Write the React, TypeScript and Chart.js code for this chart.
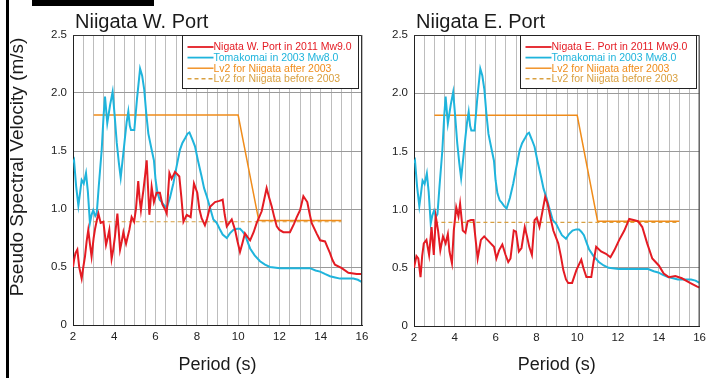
import React, { useEffect, useRef } from "react";
import { Chart, registerables } from "chart.js";

Chart.register(...registerables);

// ---------- data ----------
const periodTickLabels = [2, 4, 6, 8, 10, 12, 14, 16];
const panelTitles = ["Niigata W. Port", "Niigata E. Port"];
const redLabels = ["Nigata W. Port in 2011 Mw9.0", "Nigata E. Port in 2011 Mw9.0"];
const tomakomaiLabel = "Tomakomai in 2003 Mw8.0";
const lv2AfterLabel = "Lv2 for Niigata after 2003";
const lv2BeforeLabel = "Lv2 for Niigata before 2003";

const tomakomaiPeriod = [2.0, 2.05, 2.15, 2.26, 2.35, 2.42, 2.52, 2.63, 2.72, 2.82, 2.9, 2.98, 3.08, 3.15, 3.25, 3.39, 3.48, 3.55, 3.66, 3.8, 3.92, 4.02, 4.12, 4.22, 4.31, 4.42, 4.52, 4.6, 4.68, 4.75, 4.81, 4.97, 5.1, 5.25, 5.35, 5.45, 5.55, 5.65, 5.8, 5.92, 6.0, 6.09, 6.2, 6.3, 6.42, 6.54, 6.7, 6.86, 7.0, 7.18, 7.3, 7.43, 7.55, 7.64, 7.78, 7.91, 8.05, 8.23, 8.35, 8.48, 8.64, 8.8, 8.96, 9.1, 9.25, 9.45, 9.6, 9.77, 9.95, 10.09, 10.2, 10.33, 10.45, 10.58, 10.8, 11.06, 11.3, 11.54, 12.03, 12.5, 13.0, 13.48, 13.75, 13.97, 14.2, 14.45, 14.7, 14.94, 15.3, 15.58, 15.8, 16.0];
const tomakomaiVel = [1.4, 1.42, 1.2, 1.03, 1.15, 1.25, 1.22, 1.31, 1.15, 0.88, 0.95, 0.99, 0.94, 0.96, 1.2, 1.51, 1.8, 1.97, 1.74, 1.9, 2.01, 1.8, 1.57, 1.4, 1.27, 1.45, 1.62, 1.75, 1.84, 1.72, 1.68, 1.68, 1.95, 2.21, 2.15, 2.03, 1.82, 1.65, 1.52, 1.42, 1.25, 1.14, 1.08, 1.06, 1.03, 1.01, 1.1, 1.22, 1.35, 1.51, 1.57, 1.61, 1.65, 1.66, 1.6, 1.54, 1.42, 1.28, 1.18, 1.11, 1.01, 0.91, 0.88, 0.83, 0.78, 0.75, 0.79, 0.82, 0.83, 0.83, 0.81, 0.78, 0.72, 0.66, 0.6, 0.55, 0.52, 0.5, 0.49, 0.49, 0.49, 0.49, 0.47, 0.46, 0.44, 0.42, 0.41, 0.4, 0.4, 0.4, 0.39, 0.37];

const westPeriod = [2.0, 2.05, 2.12, 2.21, 2.3, 2.42, 2.5, 2.58, 2.66, 2.74, 2.82, 2.9, 3.0, 3.07, 3.15, 3.23, 3.34, 3.47, 3.53, 3.6, 3.68, 3.76, 3.87, 3.95, 4.03, 4.15, 4.22, 4.28, 4.36, 4.44, 4.5, 4.57, 4.65, 4.73, 4.84, 4.96, 5.05, 5.16, 5.22, 5.29, 5.35, 5.41, 5.5, 5.57, 5.63, 5.7, 5.75, 5.81, 5.92, 6.05, 6.21, 6.33, 6.45, 6.54, 6.67, 6.78, 6.94, 7.05, 7.15, 7.25, 7.35, 7.51, 7.7, 7.86, 8.02, 8.12, 8.23, 8.39, 8.5, 8.64, 8.88, 9.09, 9.25, 9.35, 9.45, 9.57, 9.69, 9.85, 9.97, 10.09, 10.2, 10.33, 10.45, 10.58, 10.75, 10.9, 11.14, 11.26, 11.38, 11.5, 11.63, 11.75, 11.87, 12.0, 12.19, 12.51, 12.7, 12.84, 13.0, 13.16, 13.35, 13.45, 13.56, 13.8, 13.97, 14.21, 14.33, 14.45, 14.57, 14.69, 15.02, 15.34, 15.74, 16.0];
const westVel = [0.5, 0.56, 0.62, 0.65, 0.5, 0.4, 0.5, 0.59, 0.72, 0.82, 0.7, 0.59, 0.75, 0.83, 0.9, 0.96, 0.88, 0.89, 0.8, 0.69, 0.75, 0.82, 0.57, 0.65, 0.76, 0.96, 0.8, 0.65, 0.72, 0.8, 0.75, 0.7, 0.76, 0.82, 0.93, 0.89, 1.0, 1.24, 1.1, 0.99, 1.08, 1.16, 1.3, 1.42, 1.2, 0.95, 1.05, 1.19, 1.06, 1.14, 1.14, 1.04, 1.0, 0.96, 1.31, 1.26, 1.32, 1.3, 1.28, 1.1, 0.89, 0.95, 0.93, 1.22, 1.14, 1.0, 0.92, 0.86, 0.92, 1.02, 1.06, 1.07, 1.08, 0.95, 0.85, 0.88, 0.91, 0.82, 0.72, 0.63, 0.7, 0.79, 0.76, 0.73, 0.8, 0.88, 0.98, 1.08, 1.18, 1.1, 1.02, 0.93, 0.85, 0.82, 0.8, 0.8, 0.87, 0.93, 0.99, 1.11, 1.06, 0.97, 0.88, 0.79, 0.73, 0.72, 0.67, 0.62, 0.56, 0.52, 0.49, 0.45, 0.44, 0.44];

const eastPeriod = [2.0, 2.05, 2.12, 2.21, 2.32, 2.4, 2.48, 2.61, 2.74, 2.86, 2.97, 3.07, 3.18, 3.29, 3.42, 3.55, 3.66, 3.74, 3.86, 3.95, 4.07, 4.18, 4.26, 4.39, 4.52, 4.63, 4.79, 4.92, 5.04, 5.12, 5.28, 5.44, 5.6, 5.76, 5.92, 6.04, 6.17, 6.33, 6.49, 6.62, 6.73, 6.89, 7.0, 7.14, 7.27, 7.43, 7.54, 7.65, 7.78, 7.91, 8.02, 8.15, 8.26, 8.43, 8.55, 8.7, 8.83, 9.07, 9.2, 9.32, 9.45, 9.56, 9.75, 9.96, 10.2, 10.3, 10.45, 10.69, 10.8, 10.93, 11.17, 11.41, 11.63, 11.82, 12.06, 12.31, 12.55, 12.76, 12.98, 13.19, 13.43, 13.68, 14.0, 14.24, 14.49, 14.81, 15.13, 15.53, 15.86, 16.0];
const eastVel = [0.5, 0.54, 0.6, 0.58, 0.42, 0.6, 0.71, 0.74, 0.61, 0.85, 0.61, 0.94, 0.82, 0.65, 0.77, 0.71, 0.79, 0.64, 0.54, 0.82, 1.02, 0.94, 1.05, 0.82, 0.8, 0.9, 0.91, 0.91, 0.71, 0.58, 0.74, 0.77, 0.74, 0.71, 0.68, 0.58, 0.65, 0.7, 0.61, 0.55, 0.58, 0.82, 0.81, 0.64, 0.67, 0.85, 0.77, 0.68, 0.61, 0.91, 0.93, 0.85, 0.95, 1.11, 1.05, 0.92, 0.82, 0.71, 0.6, 0.48, 0.4, 0.37, 0.37, 0.48, 0.57, 0.5, 0.42, 0.42, 0.55, 0.68, 0.64, 0.62, 0.59, 0.65, 0.74, 0.82, 0.92, 0.91, 0.9, 0.85, 0.71, 0.58, 0.52, 0.45, 0.42, 0.43, 0.41, 0.37, 0.34, 0.33];

const lv2AfterPeriod = [3, 10, 11, 15];
const lv2AfterVel = [1.81, 1.81, 0.9, 0.9];
const lv2BeforePeriod = [3, 15];
const lv2BeforeVel = [0.89, 0.89];

// ---------- styles ----------
const FONT = "Arial, 'Liberation Sans', Helvetica, sans-serif";
const RED = "#e41b23";
const CYAN = "#1fb4dc";
const ORANGE = "#f08c1a";
const DASHED = "#d9a040";

const pts = (xs: number[], ys: number[]) => xs.map((x, i) => ({ x, y: ys[i] }));

type PanelProps = {
  idx: number;
  left: number;
  width: number;
  yWidth: number;
  padRight: number;
  xHeight: number;
  showYTitle: boolean;
};

function Panel({ idx, left, width, yWidth, padRight, xHeight, showYTitle }: PanelProps) {
  const ref = useRef<HTMLCanvasElement | null>(null);

  useEffect(() => {
    if (!ref.current) return;
    const redP = idx === 0 ? westPeriod : eastPeriod;
    const redV = idx === 0 ? westVel : eastVel;

    const decor = {
      id: "decor" + idx,
      afterDatasetsDraw(chart: any) {
        const { ctx, chartArea: a } = chart;
        ctx.save();
        // top / right frame
        ctx.strokeStyle = "#333";
        ctx.lineWidth = 1;
        ctx.beginPath();
        ctx.moveTo(a.left, a.top + 0.5);
        ctx.lineTo(a.right - 0.5, a.top + 0.5);
        ctx.lineTo(a.right - 0.5, a.bottom);
        ctx.stroke();

        // legend box
        const bw = 176;
        const bh = 53;
        const bx = Math.round(a.right - bw - 4) + 0.5;
        const by = Math.round(a.top) + 0.5;
        ctx.fillStyle = "#ffffff";
        ctx.fillRect(bx, by, bw, bh);
        ctx.strokeStyle = "#222";
        ctx.lineWidth = 1;
        ctx.strokeRect(bx, by, bw, bh);
        const ds = chart.data.datasets;
        ctx.font = `10.5px ${FONT}`;
        ctx.textBaseline = "middle";
        ctx.textAlign = "left";
        ds.forEach((d: any, i: number) => {
          const yy = by + 11.5 + i * 10.6;
          ctx.strokeStyle = d.borderColor;
          ctx.lineWidth = d.borderWidth > 1.6 ? 1.8 : 1.4;
          ctx.setLineDash(d.borderDash || []);
          ctx.beginPath();
          ctx.moveTo(bx + 5, yy);
          ctx.lineTo(bx + 31, yy);
          ctx.stroke();
          ctx.setLineDash([]);
          ctx.fillStyle = d.borderColor;
          ctx.fillText(d.label, bx + 31, yy + 0.5);
        });
        ctx.restore();
      },
      afterDraw(chart: any) {
        const { ctx, chartArea: a } = chart;
        ctx.save();
        ctx.fillStyle = "#1a1a1a";
        ctx.font = `20px ${FONT}`;
        ctx.textAlign = "left";
        ctx.textBaseline = "alphabetic";
        ctx.fillText(panelTitles[idx], a.left + 2, 28);
        if (showYTitle) {
          ctx.translate(18, 167);
          ctx.rotate(-Math.PI / 2);
          ctx.textAlign = "center";
          ctx.textBaseline = "middle";
          ctx.font = `19px ${FONT}`;
          ctx.fillText("Pseudo Spectral Velocity (m/s)", 0, 0);
        }
        ctx.restore();
      },
    };

    const chart = new Chart(ref.current, {
      type: "line",
      data: {
        datasets: [
          { label: redLabels[idx], data: pts(redP, redV), borderColor: RED, borderWidth: 2, pointRadius: 0, fill: false },
          { label: tomakomaiLabel, data: pts(tomakomaiPeriod, tomakomaiVel), borderColor: CYAN, borderWidth: 2, pointRadius: 0, fill: false },
          { label: lv2AfterLabel, data: pts(lv2AfterPeriod, lv2AfterVel), borderColor: ORANGE, borderWidth: 1.5, pointRadius: 0, fill: false },
          { label: lv2BeforeLabel, data: pts(lv2BeforePeriod, lv2BeforeVel), borderColor: DASHED, borderWidth: 1.2, borderDash: [4, 3], pointRadius: 0, fill: false },
        ],
      },
      options: {
        animation: false,
        responsive: false,
        devicePixelRatio: 1,
        clip: 0 as any,
        layout: { padding: { left: 0, right: padRight, top: 35, bottom: 0 } },
        plugins: { legend: { display: false }, tooltip: { enabled: false }, title: { display: false } },
        elements: { line: { tension: 0 }, point: { radius: 0 } },
        scales: {
          x: {
            type: "linear",
            min: 2,
            max: 16,
            ticks: {
              stepSize: 0.5,
              autoSkip: false,
              maxRotation: 0,
              padding: 5,
              color: "#222",
              font: { size: 11.5, family: FONT },
              callback: (v: any) => (periodTickLabels.includes(Number(v)) ? String(v) : ""),
            },
            grid: { color: "#bdbdbd", lineWidth: 1, drawTicks: false },
            border: { color: "#222", width: 1 },
            title: { display: true, text: "Period (s)", color: "#1a1a1a", font: { size: 18, family: FONT }, padding: { top: 0, bottom: 2 } },
            afterFit: (s: any) => {
              s.height = xHeight;
            },
          },
          y: {
            type: "linear",
            min: 0,
            max: 2.5,
            ticks: { stepSize: 0.5, padding: 6, color: "#222", font: { size: 11.5, family: FONT } },
            grid: { color: "#9a9a9a", lineWidth: 1, drawTicks: false },
            border: { color: "#222", width: 1 },
            afterFit: (s: any) => {
              s.width = yWidth;
            },
          },
        },
      } as any,
      plugins: [decor],
    });
    return () => chart.destroy();
  }, []);

  return (
    <canvas
      ref={ref}
      width={width}
      height={378}
      style={{ position: "absolute", left, top: 0, width, height: 378 }}
    />
  );
}

export default function App() {
  return (
    <div style={{ position: "absolute", left: 0, top: 0, width: 711, height: 378, background: "#fff", overflow: "hidden" }}>
      <div style={{ position: "absolute", left: 6, top: 0, width: 3, height: 378, background: "#000" }} />
      <div style={{ position: "absolute", left: 32, top: 0, width: 122, height: 6, background: "#000" }} />
      <Panel idx={0} left={0} width={375} yWidth={73} padRight={13} xHeight={53} showYTitle={true} />
      <Panel idx={1} left={366} width={345} yWidth={48} padRight={8} xHeight={52} showYTitle={false} />
    </div>
  );
}
